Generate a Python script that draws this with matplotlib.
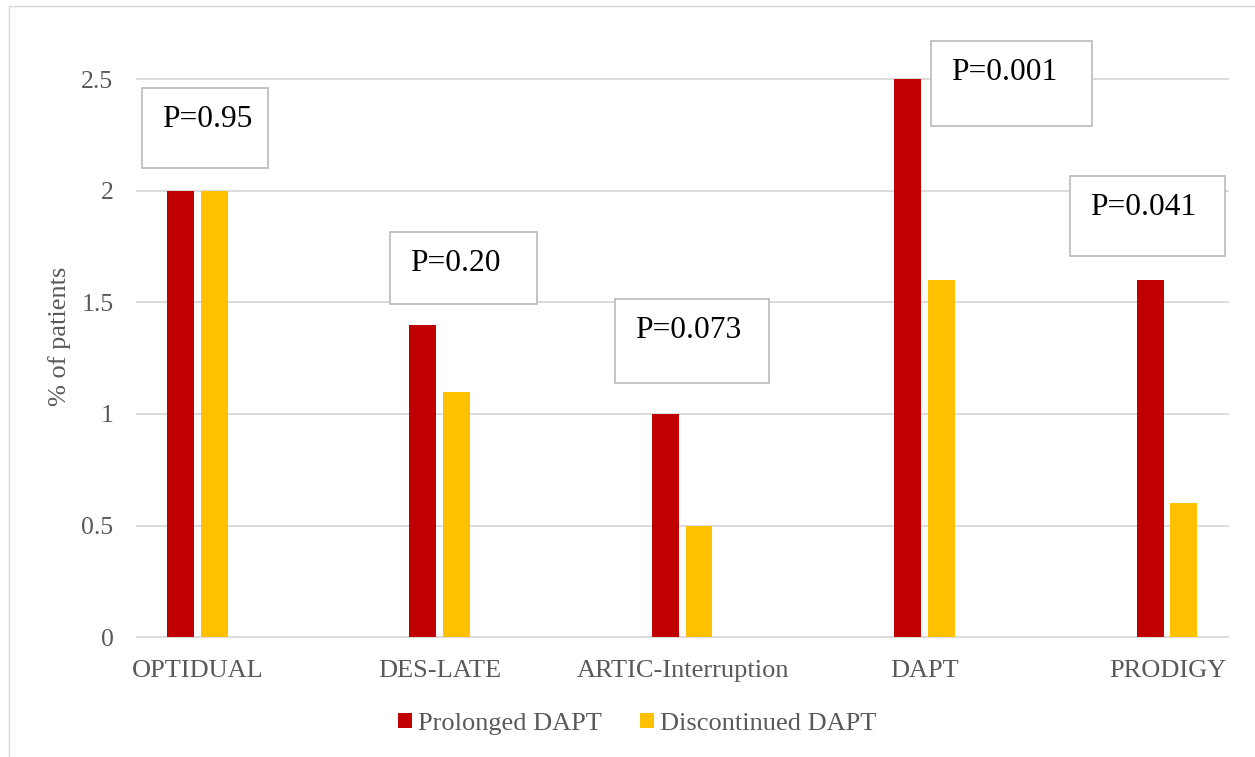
import matplotlib
matplotlib.use("Agg")
import matplotlib.pyplot as plt
from matplotlib.patches import Rectangle, Patch
import numpy as np

# ---- data ----
categories = ["OPTIDUAL", "DES-LATE", "ARTIC-Interruption", "DAPT", "PRODIGY"]
prolonged = [2.0, 1.4, 1.0, 2.5, 1.6]
discontinued = [2.0, 1.1, 0.5, 1.6, 0.6]
series_names = ["Prolonged DAPT", "Discontinued DAPT"]
p_labels = ["P=0.95", "P=0.20", "P=0.073", "P=0.001", "P=0.041"]
yticks = [0, 0.5, 1, 1.5, 2, 2.5]
ytick_labels = ["0", "0.5", "1", "1.5", "2", "2.5"]

# ---- layout (box positions in data coords: x0, x1, y_bottom, y_top) ----
box_pos = [(-0.229, 0.291, 2.10, 2.46),
           (0.794, 1.400, 1.493, 1.815),
           (1.722, 2.357, 1.139, 1.515),
           (3.025, 3.689, 2.290, 2.670),
           (3.598, 4.237, 1.708, 2.066)]

RED = "#C00000"
YEL = "#FFC000"
GRID = "#D9D9D9"
TXT = "#595959"
plt.rcParams['font.family'] = ['Liberation Serif', 'DejaVu Serif']

fig = plt.figure(figsize=(12.55, 7.57), dpi=100)
ax = fig.add_axes([137/1255, 1 - 637.3/757, (1228-137)/1255, (637.3-79)/757])

x = np.arange(len(categories))
w = 0.111
ax.bar(x - 0.071, prolonged, width=w, color=RED, zorder=3)
ax.bar(x + 0.068, discontinued, width=w, color=YEL, zorder=3)

ax.set_xlim(-0.25, 4.25)
ax.set_ylim(0, 2.5)
ax.set_yticks(yticks)
ax.set_yticklabels(ytick_labels)
ax.set_xticks(x)
ax.set_xticklabels(categories)
ax.tick_params(axis='y', length=0, labelsize=18.5, labelcolor=TXT, pad=17)
ax.tick_params(axis='x', length=0, labelsize=19, labelcolor=TXT, pad=16)
for s in ax.spines.values():
    s.set_visible(False)
for yv in yticks:
    ax.axhline(yv, color=GRID, lw=1.3, zorder=1, clip_on=False)

ax.set_ylabel("% of patients", fontsize=19, color=TXT)
ax.yaxis.set_label_coords(-(137-71)/1091, 0.54)

# P-value boxes
for lab, (x0, x1, yb, yt) in zip(p_labels, box_pos):
    r = Rectangle((x0, yb), x1 - x0, yt - yb, facecolor="white", edgecolor="#BFBFBF",
                  lw=1.3, zorder=5, clip_on=False)
    ax.add_patch(r)
    ax.annotate(lab, xy=(x0, yt), xytext=(20*0.72, -39*0.72), textcoords="offset points",
                ha="left", va="baseline", fontsize=22.7, color="black", zorder=6,
                annotation_clip=False)

# legend
handles = [Patch(facecolor=RED, edgecolor="none"), Patch(facecolor=YEL, edgecolor="none")]
fig.legend(handles, series_names, loc="center", bbox_to_anchor=(637/1255, 1 - 724/757),
           ncol=2, frameon=False, fontsize=19, labelcolor=TXT,
           handlelength=0.53, handleheight=0.53, handletextpad=0.23,
           columnspacing=1.44, borderaxespad=0, borderpad=0)

# outer chart border
fig.patches.append(Rectangle((8.5/1255, -0.05), 1.2, 1 - 5.5/757 + 0.05, transform=fig.transFigure,
                             facecolor="none", edgecolor=GRID, lw=1.0, zorder=0))

fig.savefig("out.png", dpi=100)
